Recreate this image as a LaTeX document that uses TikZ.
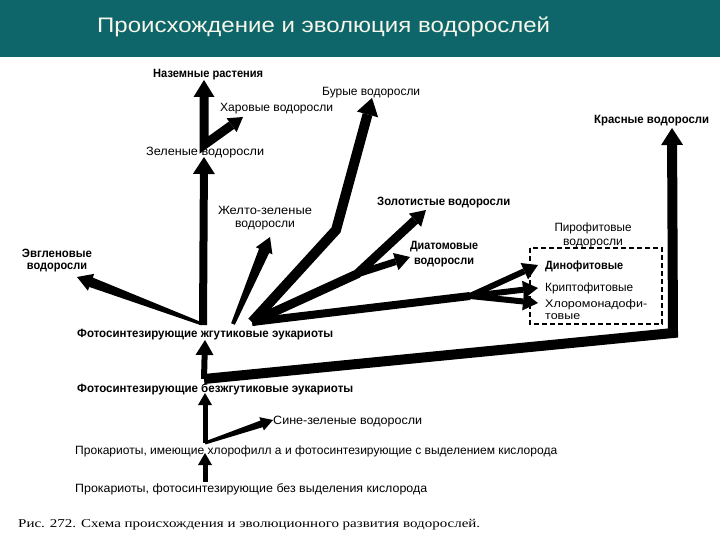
\documentclass[tikz,border=0pt]{standalone}
\usepackage{fontspec}
\usepackage{graphicx}
\setmainfont{Liberation Sans}
\newfontfamily\capfont{Liberation Serif}
\usetikzlibrary{arrows.meta,calc}
\definecolor{titlebar}{RGB}{14,102,106}
\definecolor{titletext}{RGB}{246,246,234}
\newcommand\fitw[2]{\resizebox{#1pt}{\height}{#2}}
% wedge arrow: from, to, half width at start, half width at head base, head length, head half width
\newcommand\wedgearr[6]{%
  \coordinate (wa) at (#1); \coordinate (wb) at (#2);
  \coordinate (wh) at ($(wb)!#5!(wa)$);
  \fill ($(wa)!#3!90:(wb)$) -- ($(wh)!#4!-90:(wa)$) -- ($(wh)!#6!-90:(wa)$) -- (wb)
    -- ($(wh)!#6!90:(wa)$) -- ($(wh)!#4!90:(wa)$) -- ($(wa)!#3!-90:(wb)$) -- cycle;}
\begin{document}
\begin{tikzpicture}[x=1pt,y=-1pt,
  lab/.style={inner sep=0pt, font=\fontsize{12}{12}\selectfont},
  labb/.style={inner sep=0pt, font=\fontsize{12}{12}\selectfont\bfseries},
  hL/.style={-{Triangle[length=17pt,width=22pt,line width=0pt]}},
  hM/.style={-{Triangle[length=15pt,width=18pt,line width=0pt]}},
  hS/.style={-{Triangle[length=12pt,width=14pt,line width=0pt]}},
  shaft/.style={line width=#1, line join=miter, line cap=butt}
]
\useasboundingbox (0,0) rectangle (720,540);
\fill[white] (0,0) rectangle (720,540);
\fill[titlebar] (0,0) rectangle (720,57);
\node[anchor=base west, inner sep=0pt, text=titletext, font=\fontsize{21}{25}\selectfont] (title) at (97,33)
  {\fitw{453}{Происхождение и эволюция водорослей}};

% labels
\node[labb, anchor=base west] (naz) at (153,78) {\fitw{110}{Наземные растения}};
\node[lab, anchor=base west] (har) at (220,112) {\fitw{113}{Харовые водоросли}};
\node[lab, anchor=base west] (bur) at (322,96) {\fitw{98}{Бурые водоросли}};
\node[labb, anchor=base west] (kra) at (594,124) {\fitw{115}{Красные водоросли}};
\node[lab, anchor=base west] (zel) at (146,156) {\fitw{118}{Зеленые водоросли}};
\node[lab, align=center] (zhe) at (265,218) {\fitw{94}{Желто-зеленые}\\[1pt]\fitw{60}{водоросли}};
\node[labb, anchor=base west] (zol) at (377,206) {\fitw{133}{Золотистые водоросли}};
\node[lab, align=center] (pir) at (593,235) {\fitw{77}{Пирофитовые}\\[2pt]\fitw{60}{водоросли}};
\node[labb, align=center] (dia) at (444,254.5) {\fitw{68}{Диатомовые}\\[3pt]\fitw{60}{водоросли}};
\node[labb, anchor=base west] (din) at (545,269) {\fitw{78}{Динофитовые}};
\node[lab, anchor=base west] (kri) at (545,291) {\fitw{88}{Криптофитовые}};
\node[lab, align=left, anchor=north west, font=\fontsize{11}{11}\selectfont] (hlo) at (545,299.5)
  {\fitw{102}{Хлоромонадофи-}\\[0.5pt]\fitw{35}{товые}};
\node[labb, align=center] (evg) at (57,261) {\fitw{70}{Эвгленовые}\\\fitw{60}{водоросли}};
\node[labb, anchor=base west] (jg) at (77,337) {\fitw{256}{Фотосинтезирующие жгутиковые эукариоты}};
\node[labb, anchor=base west] (bez) at (77,392) {\fitw{276}{Фотосинтезирующие безжгутиковые эукариоты}};
\node[lab, anchor=base west] (sin) at (273,424) {\fitw{149}{Сине-зеленые водоросли}};
\node[lab, anchor=base west] (pro1) at (75,454) {\fitw{482}{Прокариоты, имеющие хлорофилл а и фотосинтезирующие с выделением кислорода}};
\node[lab, anchor=base west] (pro2) at (75,492) {\fitw{352}{Прокариоты, фотосинтезирующие без выделения кислорода}};
\node[anchor=base west, inner sep=0pt, font=\capfont\fontsize{12}{13}\selectfont] (cap) at (18,527)
  {\fitw{462}{Рис. 272. Схема происхождения и эволюционного развития водорослей.}};

% dashed group box (pyrrophytes)
\draw[line width=1.1pt, dash pattern=on 5pt off 3pt] (530,248) rectangle (662,324);

% junctions and tips
\coordinate (jZ) at (204,145);
\coordinate (jE) at (203,325);
\coordinate (jE2) at (202,324);
\coordinate (jF1) at (233,324);
\coordinate (jF) at (252,322);
\coordinate (kBend) at (336,230);
\coordinate (kGold) at (357,274);
\coordinate (kPyro) at (470,296);
\coordinate (jB) at (204,379);
\coordinate (kRed) at (673,333);
\coordinate (jP) at (205,443);
\coordinate (jS) at (205,482);
\coordinate (tNaz) at (204,80);
\coordinate (tHar) at (243,117);
\coordinate (tZel) at (204,157);
\coordinate (tEvg) at (77,277);
\coordinate (tZhe) at (270,237);
\coordinate (tBur) at (372,98);
\coordinate (tZol) at (426,210);
\coordinate (tDia) at (410,257);
\coordinate (tDin) at (538,265);
\coordinate (tKri) at (538,288);
\coordinate (tHlo) at (538,303);
\coordinate (tKra) at (672,128);
\coordinate (tJg) at (205,340);
\coordinate (tBez) at (205,393);
\coordinate (tSin) at (273,420);
\coordinate (tPro) at (205,453);

% connectors
\draw[shaft=9pt, {Triangle[length=17pt,width=21pt,line width=0pt]}-{Triangle[length=14pt,width=17pt,line width=0pt]}]
  (tNaz) -- (jZ) -- (tHar);
\draw[shaft=8pt, hL] (jE) -- (tZel);
\wedgearr{jE2}{tEvg}{1.5pt}{5pt}{15pt}{9pt}
\wedgearr{jF1}{tZhe}{2pt}{5.5pt}{15pt}{9pt}
\draw[shaft=10pt, hL] (jF) -- (kBend) -- (tBur);
\draw[shaft=9pt, hM] (jF) -- (kGold) -- (tZol);
\draw[shaft=7pt, hM] (kGold) -- (tDia);
\draw[shaft=8pt] (jF) -- (kPyro);
\draw[shaft=6pt, hM] (kPyro) -- (tDin);
\draw[shaft=6pt, hM] (kPyro) -- (tKri);
\draw[shaft=6pt, hM] (kPyro) -- (tHlo);
\draw[shaft=10pt, hL] (jB) -- (kRed) -- (tKra);
\draw[shaft=6pt, hM] (jB) -- (tJg);
\draw[shaft=5pt, hS] (jP) -- (tBez);
\wedgearr{jP}{tSin}{1.5pt}{3.5pt}{12pt}{7pt}
\draw[shaft=5pt, hS] (jS) -- (tPro);
\end{tikzpicture}
\end{document}
